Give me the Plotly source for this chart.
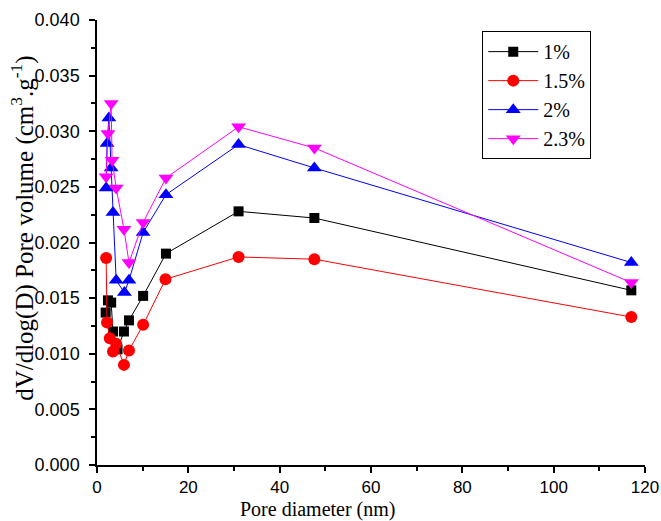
import plotly.graph_objects as go

# ---- data ----
x_1 = [1.9, 2.4, 3.1, 3.5, 4.5, 5.9, 7.0, 10.1, 15.1, 31.0, 47.6, 117.0]
y_1 = [0.0137, 0.0148, 0.0146, 0.0120, 0.0104, 0.0120, 0.0130, 0.0152, 0.0190, 0.0228, 0.0222, 0.0157]

x_15 = [2.0, 2.2, 2.8, 3.5, 4.2, 5.9, 7.0, 10.1, 15.0, 31.0, 47.6, 117.0]
y_15 = [0.0186, 0.0128, 0.0114, 0.0102, 0.0109, 0.0090, 0.0103, 0.0126, 0.0167, 0.0187, 0.0185, 0.0133]

x_2 = [2.0, 2.2, 2.6, 3.1, 3.5, 4.2, 6.0, 7.0, 10.1, 15.1, 31.0, 47.6, 117.0]
y_2 = [0.0249, 0.0289, 0.0312, 0.0267, 0.0227, 0.0166, 0.0155, 0.0166, 0.0209, 0.0243, 0.0288, 0.0267, 0.0182]

x_23 = [2.0, 2.4, 3.1, 3.3, 4.2, 5.9, 7.0, 10.1, 15.1, 31.0, 47.6, 117.0]
y_23 = [0.0259, 0.0298, 0.0325, 0.0274, 0.0249, 0.0212, 0.0182, 0.0218, 0.0258, 0.0304, 0.0285, 0.0164]

names = ["1%", "1.5%", "2%", "2.3%"]
colors = ["#000000", "#FF0000", "#0000FF", "#FF00FF"]
symbols = ["square", "circle", "triangle-up", "triangle-down"]
sizes = [10, 12, 13, 13]
xs = [x_1, x_15, x_2, x_23]
ys = [y_1, y_15, y_2, y_23]

x_title = "Pore diameter (nm)"
y_title = "dV/dlog(D) Pore volume (cm<sup>3</sup>.g<sup>-1</sup>)"

fig = go.Figure()
for xv, yv, n, c, s, sz in zip(xs, ys, names, colors, symbols, sizes):
    fig.add_trace(go.Scatter(
        x=xv, y=yv, name=n, mode="lines+markers",
        line=dict(color=c, width=1),
        marker=dict(symbol=s, size=sz, color=c, line=dict(width=0)),
    ))

serif = "Liberation Serif, Times New Roman, serif"
sans = "Liberation Sans, Arial, sans-serif"

fig.update_layout(
    width=661, height=521,
    margin=dict(l=97, r=16, t=20, b=56, autoexpand=False),
    paper_bgcolor="white", plot_bgcolor="white",
    showlegend=True,
    legend=dict(
        x=0.703, y=0.975, xanchor="left", yanchor="top",
        bordercolor="#000", borderwidth=1, bgcolor="white",
        font=dict(family=serif, size=20, color="#000"),
        tracegroupgap=0, itemwidth=50,
    ),
    annotations=[
        dict(text=x_title, xref="paper", yref="paper", x=0.403, y=-0.099,
             xanchor="center", yanchor="middle", showarrow=False,
             font=dict(family=serif, size=20, color="#000")),
        dict(text=y_title, xref="paper", yref="paper", x=-0.135, y=0.533,
             xanchor="center", yanchor="middle", showarrow=False, textangle=-90,
             font=dict(family=serif, size=25, color="#000")),
    ],
)
fig.update_xaxes(
    range=[0, 120], dtick=20, tick0=0, automargin=False,
    showline=True, linecolor="#000", linewidth=1.5,
    ticks="outside", ticklen=6, tickwidth=1.5, tickcolor="#000",
    minor=dict(dtick=10, ticks="outside", ticklen=4, tickwidth=1.5, tickcolor="#000"),
    showgrid=False, zeroline=False, tickfont=dict(family=sans, size=17, color="#000"),
)
fig.update_yaxes(
    range=[0, 0.040], dtick=0.005, tick0=0, tickformat=".3f", automargin=False,
    showline=True, linecolor="#000", linewidth=1.5,
    ticks="outside", ticklen=6, tickwidth=1.5, tickcolor="#000",
    minor=dict(dtick=0.0025, ticks="outside", ticklen=4, tickwidth=1.5, tickcolor="#000"),
    showgrid=False, zeroline=False, tickfont=dict(family=sans, size=18, color="#000"),
    ticklabelstandoff=6,
)

fig.write_html("out.html", config={"displayModeBar": False},
               post_script="document.body.style.margin='0';")
